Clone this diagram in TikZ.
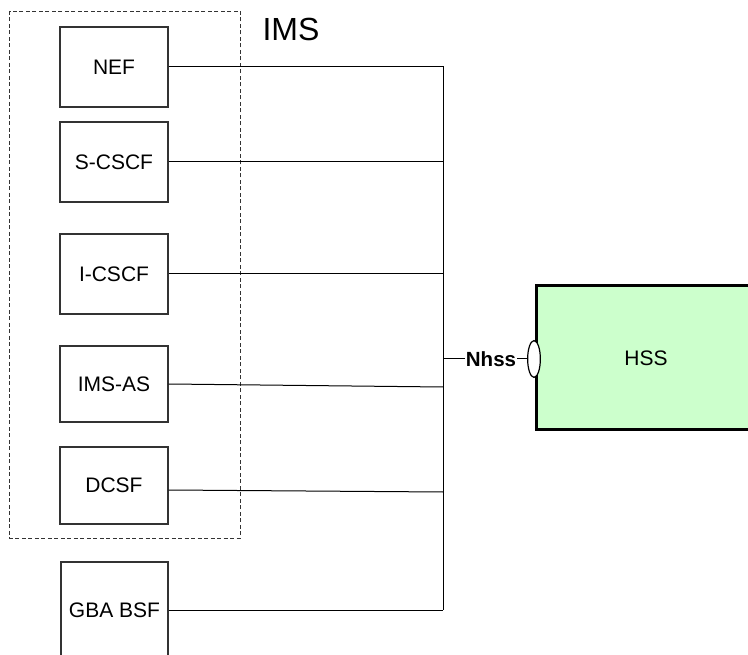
\documentclass[tikz,border=0pt]{standalone}
\usepackage{fontspec}
\setmainfont{Liberation Sans}
\usepackage{tikz}
\usetikzlibrary{shapes.geometric}

\tikzset{
    nfbox/.style={draw=black!80, line width=1.2pt, fill=white, minimum width=108pt, font=\fontsize{21}{25}\selectfont},
    link/.style={draw=black, line width=1pt},
}

\begin{document}
\begin{tikzpicture}[x=1pt,y=-1pt]
    \clip (0,0) rectangle (748,655);
    \fill[white] (0,0) rectangle (748,655);

    \coordinate (D1) at (9.5, 11);
    \coordinate (D2) at (240, 538);
    \coordinate (B1) at (443, 67);
    \coordinate (B2) at (443, 162);
    \coordinate (B3) at (443, 274);
    \coordinate (B4) at (443, 387);
    \coordinate (B5) at (443, 492);
    \coordinate (B6) at (443, 610);
    \coordinate (BN) at (443, 359);

    \draw[black!80, line width=0.9pt, dash pattern=on 4pt off 2.5pt] (D1) rectangle (D2); % IMS domain
    \node[anchor=west, font=\fontsize{32}{36}\selectfont] (ims) at (259, 29) {IMS};

    \node[nfbox, minimum height=80pt] (nef) at (114, 67) {NEF};
    \node[nfbox, minimum height=80pt] (scscf) at (114, 162) {S-CSCF};
    \node[nfbox, minimum height=80pt] (icscf) at (114, 274) {I-CSCF};
    \node[nfbox, minimum height=76pt] (imsas) at (114, 384) {IMS-AS};
    \node[nfbox, minimum height=77pt] (dcsf) at (114, 485.5) {DCSF};
    \node[nfbox, minimum height=96pt, minimum width=107pt] (gba) at (114.5, 610) {GBA BSF};

    \node[draw=black, line width=3pt, fill=green!20, minimum width=220pt, minimum height=144pt,
          font=\fontsize{21}{25}\selectfont] (hss) at (646, 358) {HSS};
    \node[ellipse, draw=black, line width=1.2pt, fill=white, inner sep=0pt,
          minimum width=12.7pt, minimum height=36.7pt] (sbi) at (534, 359) {};
    \node[font=\bfseries\fontsize{20.5}{24}\selectfont, inner sep=1pt] (nhss) at (491, 359) {Nhss};

    \draw[link] (nef.east) -- (B1) -- (B6); % bus
    \draw[link] (scscf.east) -- (B2);
    \draw[link] (icscf.east) -- (B3);
    \draw[link] (imsas.east) -- (B4);
    \draw[link] ([yshift=-4.5pt]dcsf.east) -- (B5);
    \draw[link] (gba.east) -- (B6);
    \draw[link] (BN) -- (nhss.west);
    \draw[link] (nhss.east) -- (sbi.west);

\end{tikzpicture}
\end{document}
